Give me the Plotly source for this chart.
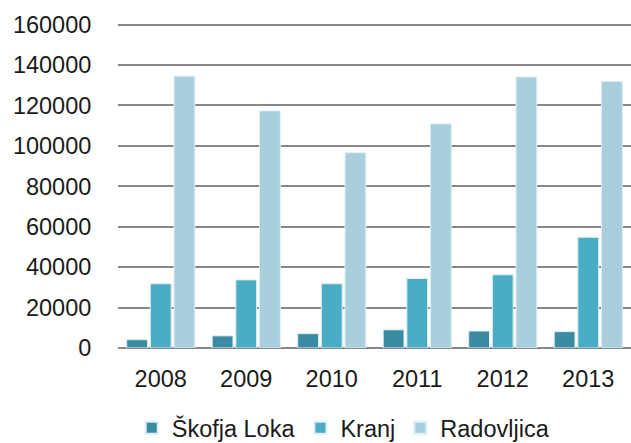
import plotly.graph_objects as go

years = ["2008", "2009", "2010", "2011", "2012", "2013"]
skofja_loka = [4100, 6000, 7100, 9000, 8400, 8100]
kranj = [31800, 33700, 31800, 34400, 36200, 54800]
radovljica = [134500, 117300, 96600, 110900, 134100, 131900]
y_ticks = [0, 20000, 40000, 60000, 80000, 100000, 120000, 140000, 160000]

series = [
    ("Škofja Loka", skofja_loka, "#3B8CA3"),
    ("Kranj", kranj, "#4BACC6"),
    ("Radovljica", radovljica, "#A9CFDD"),
]

fig = go.Figure()
for name, vals, col in series:
    fig.add_trace(go.Bar(
        x=years, y=vals, name=name,
        marker=dict(color=col, line=dict(color="#DDEFF4", width=1)),
    ))

fam = "Liberation Sans, Arial, sans-serif"
font = dict(family=fam, size=23.5, color="#1a1a1a")
legend_font = dict(family=fam, size=23.5, color="#1a1a1a")
fig.update_layout(
    width=631, height=443,
    margin=dict(l=118, r=0, t=22, b=95),
    paper_bgcolor="white", plot_bgcolor="white",
    barmode="group", bargap=0.17, bargroupgap=0.12,
    font=font,
    showlegend=True,
    legend=dict(orientation="h", x=0.439, xanchor="center",
                yref="container", y=0.034, yanchor="middle",
                font=legend_font, itemsizing="constant", traceorder="normal",
                itemwidth=30, tracegroupgap=0),
    xaxis=dict(showgrid=False, showline=False, ticks="outside", ticklen=10,
               tickcolor="rgba(0,0,0,0)", tickfont=font, automargin=False),
    yaxis=dict(range=[0, 161300], tickvals=y_ticks, ticktext=[str(v) for v in y_ticks],
               showgrid=True, gridcolor="#878787", gridwidth=2, zeroline=True,
               zerolinecolor="#878787", zerolinewidth=2, showline=False,
               ticks="outside", ticklen=21, tickcolor="rgba(0,0,0,0)",
               tickfont=font, automargin=False),
)
fig.write_html(
    "out.html",
    config={"displayModeBar": False},
    post_script="document.body.style.margin='0';document.body.style.overflow='hidden';",
)
